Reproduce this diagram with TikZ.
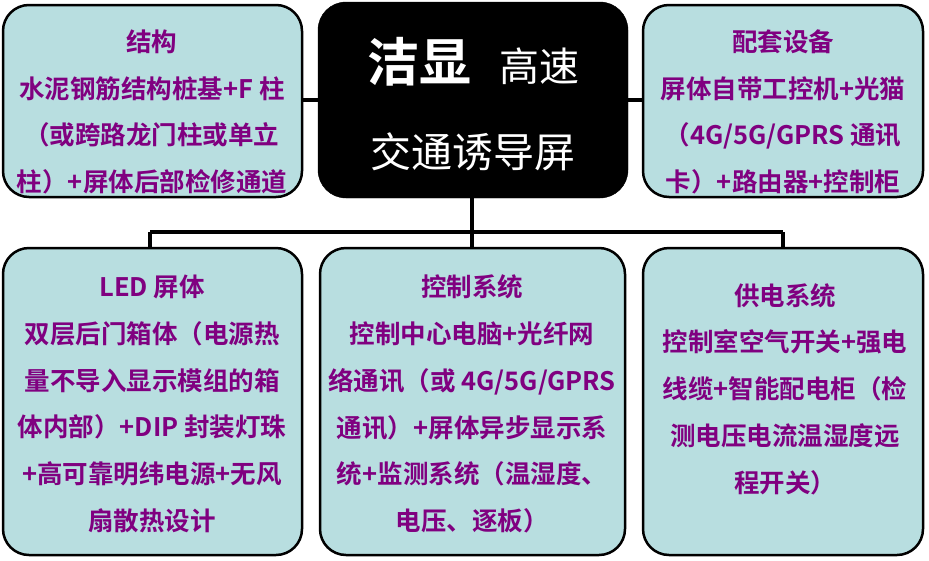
\documentclass[tikz,border=0pt]{standalone}
\usepackage{fontspec}
\setmainfont{Noto Sans CJK SC}[BoldFont={* Bold}]
\definecolor{boxfill}{RGB}{184,222,224}
\definecolor{txt}{RGB}{128,0,128}
\begin{document}
\begin{tikzpicture}[x=1pt,y=-1pt,
  panel/.style={draw=black,line width=2.5pt,fill=boxfill,rounded corners=26pt},
  ptext/.style={text=txt,font=\fontsize{25.5}{46.7}\selectfont\bfseries,align=center,inner sep=0pt},
  link/.style={draw=black,line width=4pt}]
\useasboundingbox (0,0) rectangle (929,560);
\coordinate (ja) at (150,232); \coordinate (jb) at (472,232); \coordinate (jc) at (783,232);
\coordinate (jm) at (472,100);
\draw[link] (150,100) -- (783,100);
\draw[link] (jm) -- (jb);
\draw[link] (150,232) -- (783,232);
\draw[link] (ja) -- (150,250); \draw[link] (jb) -- (472,250); \draw[link] (jc) -- (783,250);
\path[panel] (3,5) rectangle (302,197) node[pos=0.5] (tl) {};
\path[panel] (643,5) rectangle (923,197) node[pos=0.5] (tr) {};
\path[panel] (3,248) rectangle (302,555) node[pos=0.5] (bl) {};
\path[panel] (320,248) rectangle (625,555) node[pos=0.5] (bm) {};
\path[panel] (643,248) rectangle (923,555) node[pos=0.5] (br) {};
\path[draw=black,fill=black,rounded corners=28pt] (318,2) rectangle (628,198) node[pos=0.5] (ct) {};
\node[text=white,inner sep=0pt] (t1) at (473,62) {\fontsize{52}{52}\selectfont\bfseries 洁显\hspace{28pt}\fontsize{40}{40}\selectfont\mdseries 高速};
\node[text=white,inner sep=0pt,font=\fontsize{41}{41}\selectfont] (t2) at (473,152) {交通诱导屏};
\node[ptext] (a) at (152,112) {结构\\水泥钢筋结构桩基+F 柱\\（或跨路龙门柱或单立\\柱）+屏体后部检修通道};
\node[ptext] (b) at (783,112) {配套设备\\屏体自带工控机+光猫\\（4G/5G/GPRS 通讯\\卡）+路由器+控制柜};
\node[ptext] (c) at (152,404) {LED 屏体\\双层后门箱体（电源热\\量不导入显示模组的箱\\体内部）+DIP 封装灯珠\\+高可靠明纬电源+无风\\扇散热设计};
\node[ptext] (d) at (472,404) {控制系统\\控制中心电脑+光纤网\\络通讯（或 4G/5G/GPRS\\通讯）+屏体异步显示系\\统+监测系统（温湿度、\\电压、逐板）};
\node[ptext] (e) at (785,389) {供电系统\\控制室空气开关+强电\\线缆+智能配电柜（检\\测电压电流温湿度远\\程开关）};
\end{tikzpicture}
\end{document}
